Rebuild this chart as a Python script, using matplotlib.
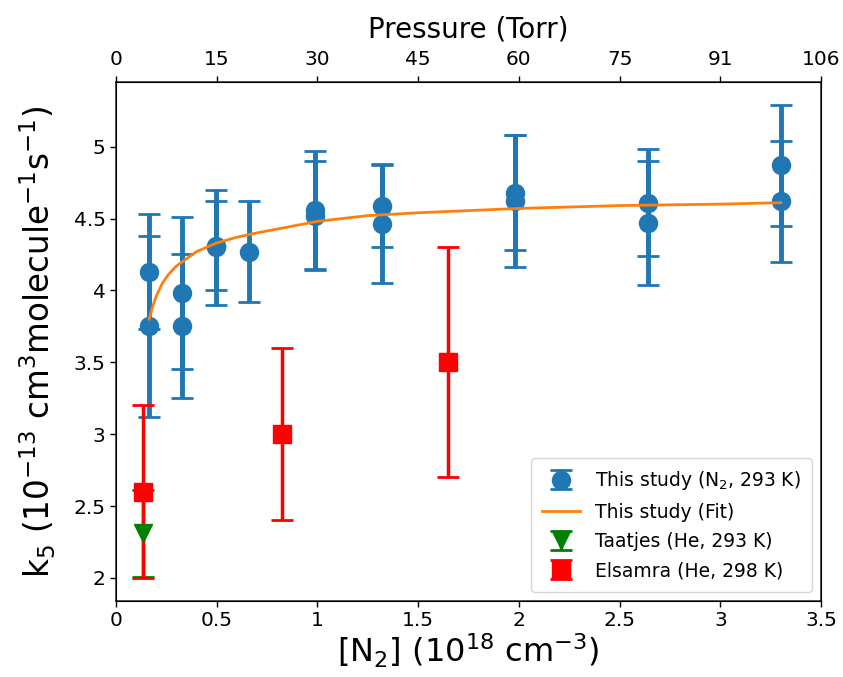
import matplotlib
matplotlib.use("Agg")
import matplotlib.pyplot as plt
from matplotlib.ticker import FuncFormatter

# This study (N2, 293 K)
n2_x = [0.165, 0.165, 0.33, 0.33, 0.495, 0.495, 0.66, 0.99, 0.99, 1.32, 1.32, 1.98, 1.98, 2.64, 2.64, 3.30, 3.30]
n2_k = [4.13, 3.75, 3.98, 3.75, 4.30, 4.31, 4.27, 4.56, 4.52, 4.59, 4.46, 4.68, 4.62, 4.61, 4.47, 4.87, 4.62]
n2_err = [0.40, 0.63, 0.53, 0.50, 0.40, 0.31, 0.35, 0.41, 0.38, 0.29, 0.41, 0.40, 0.46, 0.37, 0.43, 0.42, 0.42]

# Fit curve
fit_x = [0.165, 0.18, 0.20, 0.23, 0.26, 0.30, 0.35, 0.40, 0.50, 0.60, 0.70, 0.85, 1.00, 1.25, 1.50, 2.00, 2.50, 3.00, 3.30]
fit_k = [3.80, 3.88, 3.96, 4.05, 4.11, 4.17, 4.22, 4.27, 4.33, 4.37, 4.40, 4.44, 4.48, 4.52, 4.54, 4.57, 4.59, 4.60, 4.61]

# Taatjes (He, 293 K)
taatjes_x = [0.135]
taatjes_k = [2.31]
taatjes_err = [0.30]

# Elsamra (He, 298 K)
elsamra_x = [0.135, 0.825, 1.65]
elsamra_k = [2.60, 3.00, 3.50]
elsamra_err = [0.60, 0.60, 0.80]

x_ticks = [0, 0.5, 1, 1.5, 2, 2.5, 3, 3.5]
x_ticklabels = ['0', '0.5', '1', '1.5', '2', '2.5', '3', '3.5']
top_ticklabels = ['0', '15', '30', '45', '60', '75', '91', '106']
y_ticks = [2, 2.5, 3, 3.5, 4, 4.5, 5]

fig = plt.figure(figsize=(8.43, 6.77), dpi=100)
ax = fig.add_axes([0.1376, 0.1123, 0.8364, 0.7667])

blue = '#1f77b4'
h1 = ax.errorbar(n2_x, n2_k, yerr=n2_err, fmt='o', color=blue, ms=13,
                 elinewidth=3.5, capsize=8, capthick=2, label='This study (N$_2$, 293 K)', zorder=3)
h2, = ax.plot(fit_x, fit_k, color='#ff7f0e', lw=2, label='This study (Fit)', zorder=4)
h3 = ax.errorbar(taatjes_x, taatjes_k, yerr=taatjes_err, fmt='v', color='green', ms=13,
                 elinewidth=2.5, capsize=8, capthick=2, label='Taatjes (He, 293 K)', zorder=3)
h4 = ax.errorbar(elsamra_x, elsamra_k, yerr=elsamra_err, fmt='s', color='red', ms=13,
                 elinewidth=2.5, capsize=8, capthick=2, label='Elsamra (He, 298 K)', zorder=3)

ax.set_xlim(0, 3.5)
ax.set_ylim(1.84, 5.45)
ax.set_xticks(x_ticks)
ax.set_xticklabels(x_ticklabels)
ax.set_yticks(y_ticks)
ax.yaxis.set_major_formatter(FuncFormatter(lambda v, p: '%g' % v))
ax.tick_params(labelsize=14.5, width=1.0, length=4)
for s in ax.spines.values():
    s.set_linewidth(1.1)
    s.set_color('#222222')

ax.set_xlabel(r'[N$_2$] (10$^{18}$ cm$^{-3}$)', fontsize=23, labelpad=1)
ax.set_ylabel(r'k$_5$ (10$^{-13}$ cm$^3$molecule$^{-1}$s$^{-1}$)', fontsize=23.5, labelpad=11)

ax2 = ax.twiny()
ax2.set_xlim(ax.get_xlim())
ax2.set_xticks(x_ticks)
ax2.set_xticklabels(top_ticklabels)
ax2.tick_params(labelsize=14.5, width=1.0, length=4, pad=5)
ax2.set_xlabel('Pressure (Torr)', fontsize=20, labelpad=9)

leg = ax.legend([h1, h2, h3, h4], [h.get_label() for h in [h1, h2, h3, h4]],
                loc='lower right', fontsize=13.5, frameon=True, borderpad=0.6,
                handlelength=2.0, labelspacing=0.55)

fig.savefig('out.png', dpi=100)
